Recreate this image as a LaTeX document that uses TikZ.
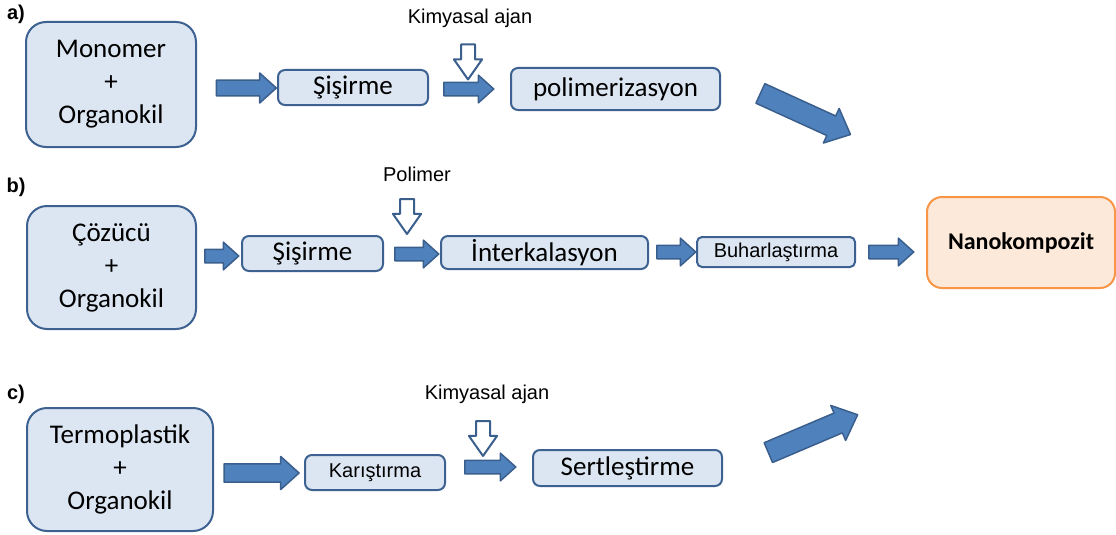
\documentclass[tikz,border=0pt]{standalone}
\usepackage{fontspec}
\setmainfont{Carlito}
\newfontfamily\arialfont{Liberation Sans}
\usepackage{tikz}
\usetikzlibrary{shapes.arrows,positioning}
\definecolor{boxfill}{HTML}{DCE6F2}
\definecolor{boxline}{HTML}{3D6190}
\definecolor{arrfill}{HTML}{4F81BD}
\definecolor{arrline}{HTML}{3A5F8D}
\definecolor{nanofill}{HTML}{FDE9D9}
\definecolor{nanoline}{HTML}{F79646}

\begin{document}
\begin{tikzpicture}[x=1pt,y=-1pt,line join=round]
  \tikzstyle{mix}=[draw=boxline,fill=boxfill,line width=2pt,rounded corners=20pt,
                   align=center,inner sep=0pt,font=\fontsize{27}{33}\selectfont]
  \tikzstyle{stage}=[draw=boxline,fill=boxfill,line width=2pt,rounded corners=7pt,
                     inner sep=0pt,font=\fontsize{27}{30}\selectfont]
  \tikzstyle{tag}=[inner sep=0pt,font=\arialfont\bfseries\fontsize{20}{24}\selectfont]
  \tikzstyle{agent}=[inner sep=0pt,font=\arialfont\fontsize{20}{24}\selectfont]
  \tikzstyle{push}=[single arrow,draw=arrline,fill=arrfill,line width=1.5pt,
                    inner xsep=0pt,single arrow tip angle=84]
  \tikzstyle{drop}=[single arrow,draw=arrline,fill=white,line width=2pt,inner xsep=0pt,
                    single arrow tip angle=70,minimum height=35,minimum width=28,
                    inner ysep=6,rotate=-90]

  \useasboundingbox (0,0) rectangle (1116,535);

  % a)
  \node[tag]   (taga) at (16,14) {a)};
  \node[mix,minimum width=170,minimum height=125] (mono) at (111,84.5) {Monomer\\+\\Organokil};
  \node[push,minimum height=60,minimum width=30,inner ysep=7] (a1) at (242,88) {};
  \node[stage,minimum width=150,minimum height=35] (sisa) at (353,87.5) {Şişirme};
  \node[agent] (kima) at (470,18) {Kimyasal ajan};
  \node[drop]  (da) at (468,57) {};
  \node[push,minimum height=50,minimum width=24,inner ysep=6] (a2) at (465,89) {};
  \node[stage,minimum width=209,minimum height=42] (poli) at (615.5,89) {polimerizasyon};
  \node[push,minimum height=99,minimum width=38,inner ysep=8.5,rotate=-24.5] (a3) at (800,111.5) {};

  % b)
  \node[tag]   (tagb) at (16,187) {b)};
  \node[mix,minimum width=169,minimum height=123] (coz) at (111.5,267.5) {Çözücü\\+\\Organokil};
  \node[push,minimum height=34,minimum width=22,inner ysep=6] (b1) at (218,256) {};
  \node[stage,minimum width=141,minimum height=35] (sisb) at (312.5,253.5) {Şişirme};
  \node[agent] (polm) at (417,174) {Polimer};
  \node[drop]  (db) at (407,211.5) {};
  \node[push,minimum height=44,minimum width=22,inner ysep=6] (b2) at (413,254) {};
  \node[stage,minimum width=207,minimum height=33] (inter) at (544.5,252.5) {İnterkalasyon};
  \node[push,minimum height=39,minimum width=22,inner ysep=6] (b3) at (672.5,252) {};
  \node[stage,minimum width=158,minimum height=30,rounded corners=5pt,
        font=\arialfont\fontsize{20}{24}\selectfont] (buhar) at (776,252) {Buharlaştırma};
  \node[push,minimum height=45,minimum width=24,inner ysep=6] (b4) at (887.5,252) {};
  \node[draw=nanoline,fill=nanofill,line width=2pt,rounded corners=15pt,
        minimum width=188,minimum height=91,
        font=\bfseries\fontsize{24}{28}\selectfont] (nano) at (1021,242.5) {Nanokompozit};

  % c)
  \node[tag]   (tagc) at (16,394) {c)};
  \node[mix,minimum width=186,minimum height=123] (term) at (120,469.5) {Termoplastik\\+\\Organokil};
  \node[push,minimum height=75,minimum width=33,inner ysep=8] (c1) at (256.5,473) {};
  \node[stage,minimum width=140,minimum height=35,
        font=\arialfont\fontsize{20}{24}\selectfont] (kar) at (375,472.5) {Karıştırma};
  \node[agent] (kimc) at (487,394) {Kimyasal ajan};
  \node[drop]  (dc) at (483,433.5) {};
  \node[push,minimum height=51,minimum width=24,inner ysep=6] (c2) at (486.5,467) {};
  \node[stage,minimum width=189,minimum height=36] (sert) at (627.5,468) {Sertleştirme};
  \node[push,minimum height=97,minimum width=38,inner ysep=8.5,rotate=23] (c3) at (807.5,436) {};
\end{tikzpicture}
\end{document}
